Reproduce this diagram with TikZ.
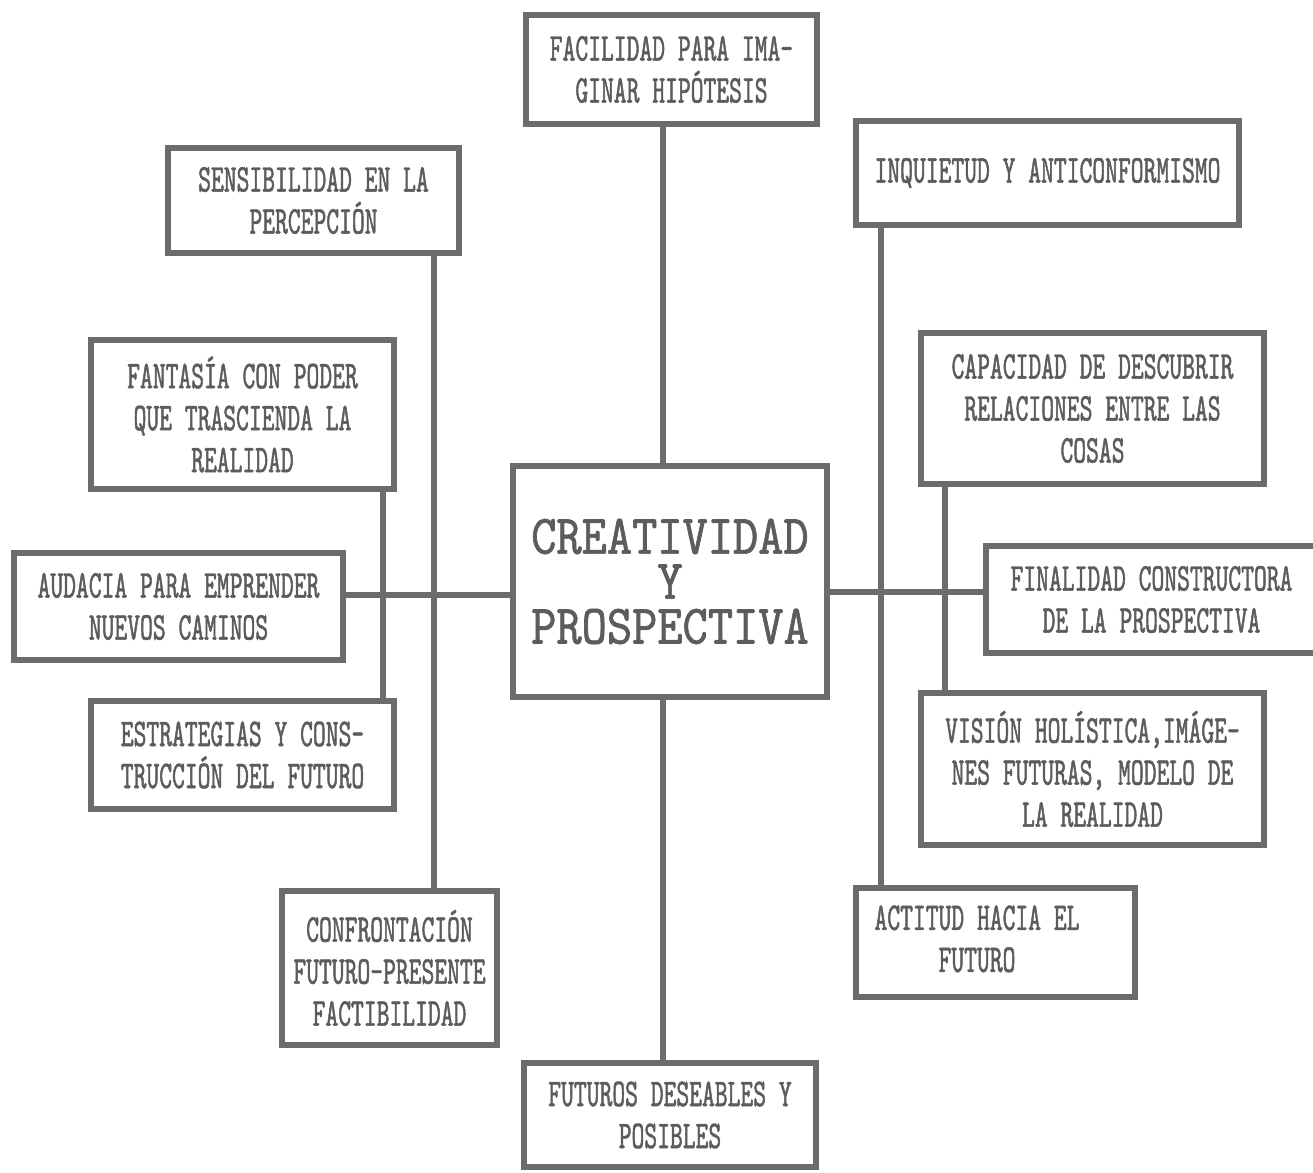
\documentclass[tikz,border=0pt]{standalone}
\usepackage{fontspec}
\usepackage{tikz}
\usetikzlibrary{positioning, calc}
\definecolor{boxgray}{RGB}{108, 108, 108}
\definecolor{inkgray}{RGB}{92, 92, 92}
\newfontfamily\boxfont{lmmono10-regular.otf}[FakeStretch=0.62, FakeBold=1.2]
\newfontfamily\titlefont{lmmono10-regular.otf}[FakeStretch=0.86, FakeBold=1.2]

\begin{document}
\begin{tikzpicture}[x=0.02cm, y=-0.02cm,
    idea/.style={draw=boxgray, line width=3.2pt, inner sep=0pt, align=center,
      text=inkgray, font=\boxfont\fontsize{22.4}{23.9}\selectfont},
    link/.style={draw=boxgray, line width=3pt}]
  \useasboundingbox (0,0) rectangle (1313,1173);

  % centre
  \node[idea, minimum width=6.28cm, minimum height=4.62cm,
        font=\titlefont\fontsize{31.8}{25.6}\selectfont] (cen) at (670,581.5)
    {CREATIVIDAD\\Y\\PROSPECTIVA};

  % top and bottom
  \node[idea, minimum width=5.82cm, minimum height=2.18cm] (fac) at (671.5,69.5)
    {FACILIDAD PARA IMA-\\GINAR HIPÓTESIS};
  \node[idea, minimum width=5.84cm, minimum height=2.08cm] (fut) at (670,1115)
    {FUTUROS DESEABLES Y\\POSIBLES};

  % left side
  \node[idea, minimum width=5.82cm, minimum height=2.10cm] (sen) at (313.5,200.5)
    {SENSIBILIDAD EN LA\\PERCEPCIÓN};
  \node[idea, minimum width=6.06cm, minimum height=2.98cm] (fan) at (242.5,414.5)
    {FANTASÍA CON PODER\\QUE TRASCIENDA LA\\REALIDAD};
  \node[idea, minimum width=6.58cm, minimum height=2.14cm] (aud) at (178.5,606.5)
    {AUDACIA PARA EMPRENDER\\NUEVOS CAMINOS};
  \node[idea, minimum width=6.06cm, minimum height=2.16cm] (est) at (242.5,755)
    {ESTRATEGIAS Y CONS-\\TRUCCIÓN DEL FUTURO};
  \node[idea, minimum width=4.30cm, minimum height=3.08cm] (con) at (389.5,968)
    {CONFRONTACIÓN\\FUTURO-PRESENTE\\FACTIBILIDAD};

  % right side
  \node[idea, minimum width=7.66cm, minimum height=2.08cm] (inq) at (1047.5,173)
    {INQUIETUD Y ANTICONFORMISMO};
  \node[idea, minimum width=6.86cm, minimum height=3.02cm] (cap) at (1092.5,408.5)
    {CAPACIDAD DE DESCUBRIR\\RELACIONES ENTRE LAS\\COSAS};
  \node[idea, minimum width=6.62cm, minimum height=2.14cm] (fin) at (1151.5,599.5)
    {FINALIDAD CONSTRUCTORA\\DE LA PROSPECTIVA};
  \node[idea, minimum width=6.86cm, minimum height=3.04cm] (vis) at (1092.5,769)
    {VISIÓN HOLÍSTICA,IMÁGE-\\NES FUTURAS, MODELO DE\\LA REALIDAD};
  \node[idea, minimum width=5.58cm, minimum height=2.18cm] (act) at (995.5,942.5)
    {\begin{tabular}{@{}c@{}}ACTITUD HACIA EL\\FUTURO\end{tabular}\rule{0.74cm}{0pt}};

  % where the lines run
  \coordinate (mx) at (663,0);
  \coordinate (lxa) at (383,0);
  \coordinate (lxb) at (434,0);
  \coordinate (rxa) at (881,0);
  \coordinate (rxb) at (945,0);
  \coordinate (ly) at (0,595);
  \coordinate (ry) at (0,592);

  \draw[link] (fac.south -| mx) -- (cen.north -| mx);
  \draw[link] (cen.south -| mx) -- (fut.north -| mx);
  \draw[link] (aud.east |- ly) -- (cen.west |- ly);
  \draw[link] (cen.east |- ry) -- (fin.west |- ry);
  \draw[link] (sen.south -| lxb) -- (con.north -| lxb);
  \draw[link] (fan.south -| lxa) -- (est.north -| lxa);
  \draw[link] (inq.south -| rxa) -- (act.north -| rxa);
  \draw[link] (cap.south -| rxb) -- (vis.north -| rxb);
\end{tikzpicture}
\end{document}
